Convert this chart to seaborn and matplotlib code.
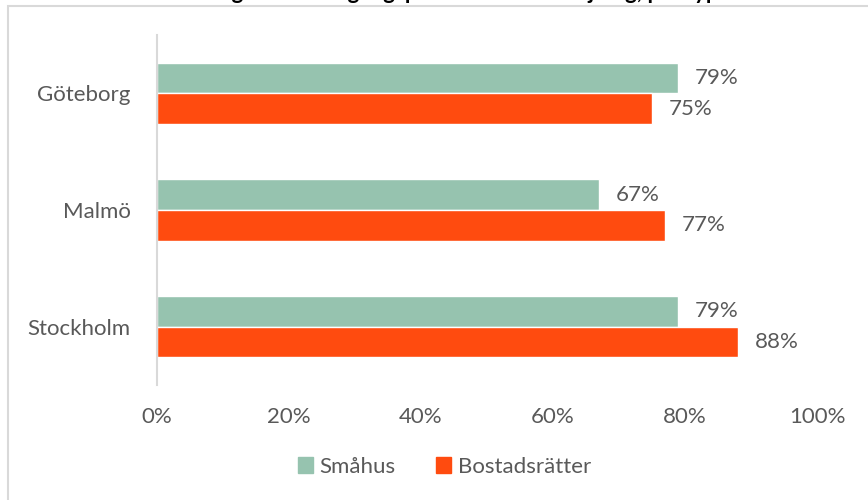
import pandas as pd
import matplotlib
matplotlib.use("Agg")
import matplotlib.pyplot as plt
from matplotlib.patches import Rectangle
import seaborn as sns

# data
cities = ["Göteborg", "Malmö", "Stockholm"]
smahus = [0.79, 0.67, 0.79]
bostadsratter = [0.75, 0.77, 0.88]
series = ["Småhus", "Bostadsrätter"]
xticks = [0, 0.2, 0.4, 0.6, 0.8, 1.0]
title = "Andel av bostäderna som gått över utgångspriset vid en försäljning, per typ av bostad och stad"

colors = {"Småhus": "#96C3AF", "Bostadsrätter": "#FF4B0F"}
grey = "#595959"

df = pd.DataFrame({
    "stad": cities * 2,
    "typ": [series[0]] * 3 + [series[1]] * 3,
    "andel": smahus + bostadsratter,
})

sns.set_style("white")
plt.rcParams["font.family"] = ["Lato", "DejaVu Sans"]

fig = plt.figure(figsize=(8.68, 5.0), dpi=100)
ax = fig.add_axes([157 / 868, 1 - 385 / 500, 660 / 868, 350 / 500])

sns.barplot(data=df, y="stad", x="andel", hue="typ", order=cities,
            hue_order=series, palette=colors, orient="h", width=0.525,
            saturation=1, ax=ax, legend=False)

for bars in ax.containers:
    for bar in bars:
        w = bar.get_width()
        ax.annotate(f"{w * 100:.0f}%", (w, bar.get_y() + bar.get_height() / 2),
                    xytext=(12, 0), textcoords="offset points", ha="left",
                    va="center", fontsize=16, color=grey)

ax.set_xlim(0, 1)
ax.set_ylim(2.5, -0.5)
ax.set_xticks(xticks)
ax.set_xticklabels([f"{t * 100:.0f}%" for t in xticks])
ax.set_xlabel("")
ax.set_ylabel("")
ax.tick_params(axis="both", length=0, labelsize=16, labelcolor=grey)
ax.tick_params(axis="x", pad=16)
ax.tick_params(axis="y", pad=19)
for s in ["top", "right", "bottom"]:
    ax.spines[s].set_visible(False)
ax.spines["left"].set_color("#D9D9D9")
ax.spines["left"].set_linewidth(1.5)

handles = [Rectangle((0, 0), 1, 1, color=colors[s]) for s in series]
fig.legend(handles, series, loc="center", bbox_to_anchor=(0.512, 1 - 467 / 500),
           ncol=2, frameon=False, fontsize=16, labelcolor=grey,
           handlelength=0.7, handleheight=0.7, handletextpad=0.3,
           columnspacing=1.8)

# chart border, partly cut by the image edge
fig.patches.append(Rectangle((8 / 868, -0.05), 1.0, 1 - 5.5 / 500 + 0.05,
                             transform=fig.transFigure, fill=False,
                             edgecolor="#D9D9D9", linewidth=1.5))

# title sits above the visible area, only its lower edge shows
fig.text(0.51, 1 + 1.5 / 500, title, ha="center", va="baseline",
         fontsize=16, fontweight="bold", color="black")

fig.savefig("out.png", dpi=100)
